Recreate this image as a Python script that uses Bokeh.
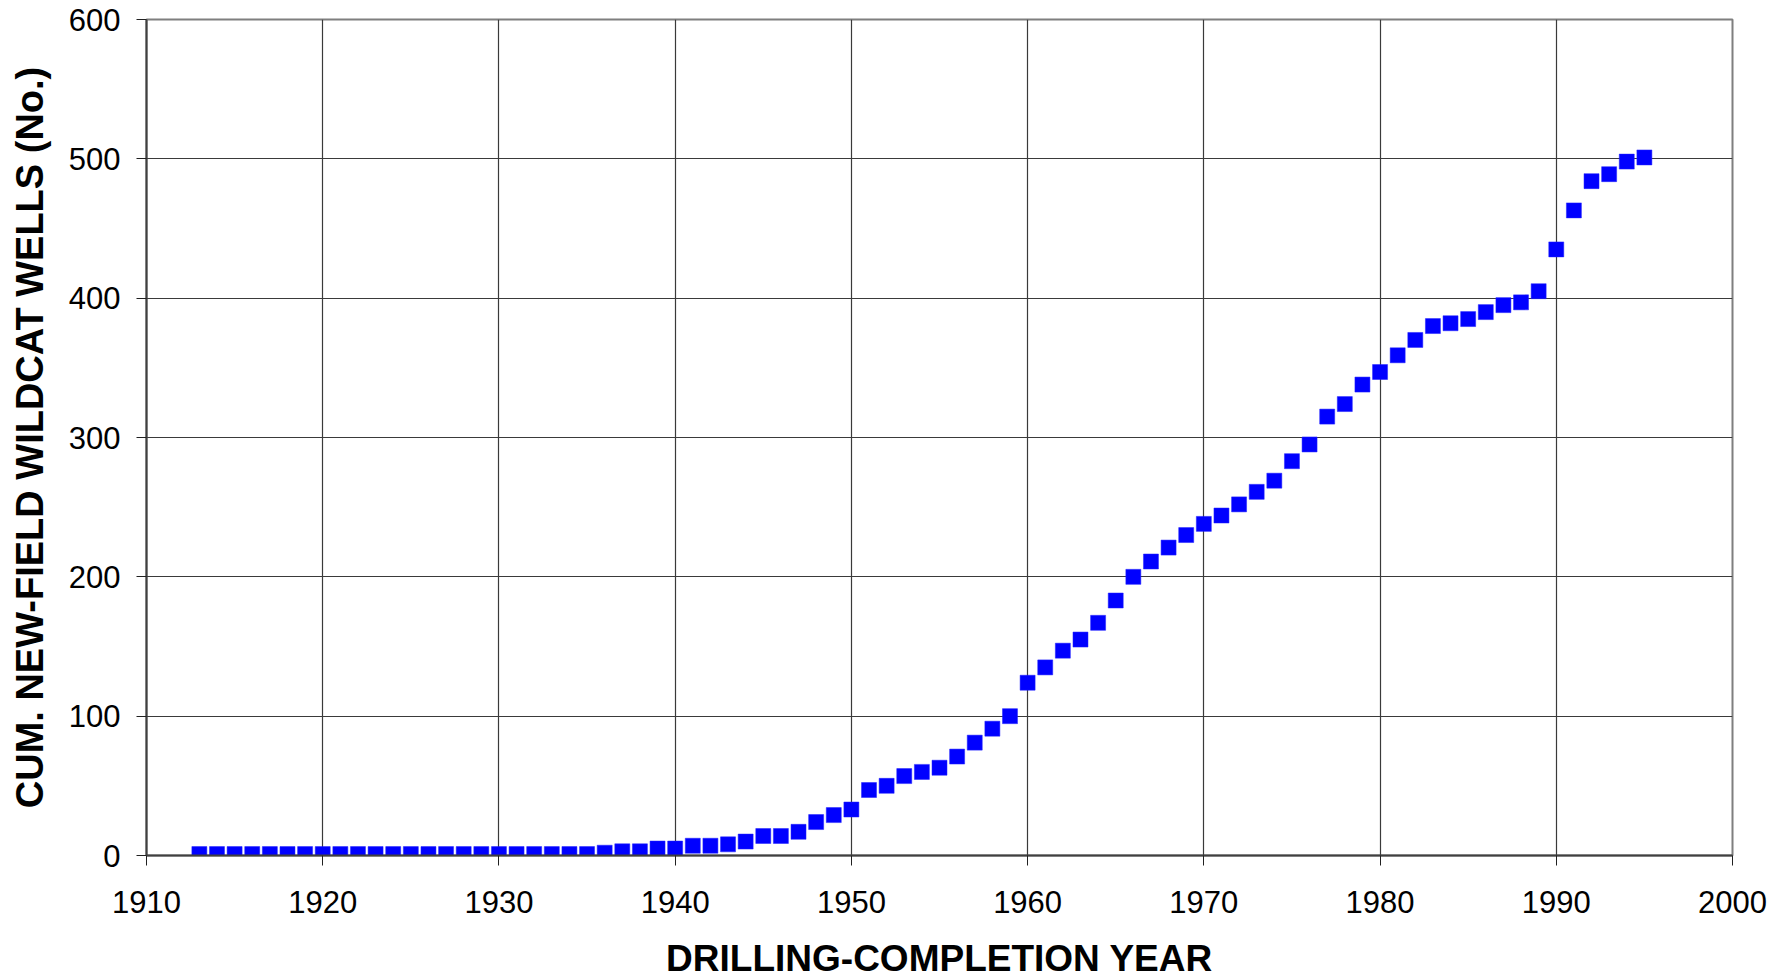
from bokeh.plotting import figure
from bokeh.models import FixedTicker, ColumnDataSource
from bokeh.embed import file_html
from bokeh.resources import INLINE

years = [1913, 1914, 1915, 1916, 1917, 1918, 1919, 1920, 1921, 1922,
         1923, 1924, 1925, 1926, 1927, 1928, 1929, 1930, 1931, 1932,
         1933, 1934, 1935, 1936, 1937, 1938, 1939, 1940, 1941, 1942,
         1943, 1944, 1945, 1946, 1947, 1948, 1949, 1950, 1951, 1952,
         1953, 1954, 1955, 1956, 1957, 1958, 1959, 1960, 1961, 1962,
         1963, 1964, 1965, 1966, 1967, 1968, 1969, 1970, 1971, 1972,
         1973, 1974, 1975, 1976, 1977, 1978, 1979, 1980, 1981, 1982,
         1983, 1984, 1985, 1986, 1987, 1988, 1989, 1990, 1991, 1992,
         1993, 1994, 1995]
cum_wells = [1, 1, 1, 1, 1, 1, 1, 1, 1, 1,
             1, 1, 1, 1, 1, 1, 1, 1, 1, 1,
             1, 1, 1, 2, 3, 3, 5, 5, 7, 7,
             8, 10, 14, 14, 17, 24, 29, 33, 47, 50,
             57, 60, 63, 71, 81, 91, 100, 124, 135, 147,
             155, 167, 183, 200, 211, 221, 230, 238, 244, 252,
             261, 269, 283, 295, 315, 324, 338, 347, 359, 370,
             380, 382, 385, 390, 395, 397, 405, 435, 463, 484,
             489, 498, 501]
x_ticks = [1910, 1920, 1930, 1940, 1950, 1960, 1970, 1980, 1990, 2000]
y_ticks = [0, 100, 200, 300, 400, 500, 600]
x_title = "DRILLING-COMPLETION YEAR"
y_title = "CUM. NEW-FIELD WILDCAT WELLS (No.)"

FONT = "Liberation Sans"

p = figure(frame_width=1586, frame_height=836,
           x_range=(1910, 2000), y_range=(0, 600),
           output_backend="svg", toolbar_location=None,
           min_border_left=146, min_border_top=19,
           min_border_right=47, min_border_bottom=0)

p.background_fill_color = "white"
p.border_fill_color = "white"
p.outline_line_color = "#7f7f7f"
p.outline_line_width = 2

for ax, ticks in ((p.xaxis[0], x_ticks), (p.yaxis[0], y_ticks)):
    ax.ticker = FixedTicker(ticks=ticks)
    ax.minor_tick_line_color = None
    ax.major_tick_in = 0
    ax.major_tick_out = 10
    ax.major_tick_line_color = "#202020"
    ax.major_tick_line_width = 1
    ax.axis_line_color = "#404040"
    ax.axis_line_width = 2
    ax.major_label_text_font = FONT
    ax.major_label_text_font_size = "31px"
    ax.major_label_text_color = "black"
    ax.axis_label_text_font = FONT
    ax.axis_label_text_font_style = "bold"
    ax.axis_label_text_color = "black"

p.xaxis[0].axis_label = x_title
p.yaxis[0].axis_label = y_title
p.xaxis[0].axis_label_text_font_size = "37px"
p.yaxis[0].axis_label_text_font_size = "38px"
p.xaxis[0].major_label_standoff = 25
p.xaxis[0].axis_label_standoff = 22
p.yaxis[0].major_label_standoff = 16
p.yaxis[0].axis_label_standoff = 15

p.xgrid.ticker = FixedTicker(ticks=x_ticks)
p.ygrid.ticker = FixedTicker(ticks=y_ticks)
for g in (p.xgrid[0], p.ygrid[0]):
    g.grid_line_color = "#3a3a3a"
    g.grid_line_width = 1.2

src = ColumnDataSource(data=dict(year=years, wells=cum_wells))
p.scatter("year", "wells", source=src, marker="square", size=15,
          fill_color="#0000ff", line_color="#2020ff", line_width=0.5)

open("out.html", "w").write(file_html(p, INLINE))
